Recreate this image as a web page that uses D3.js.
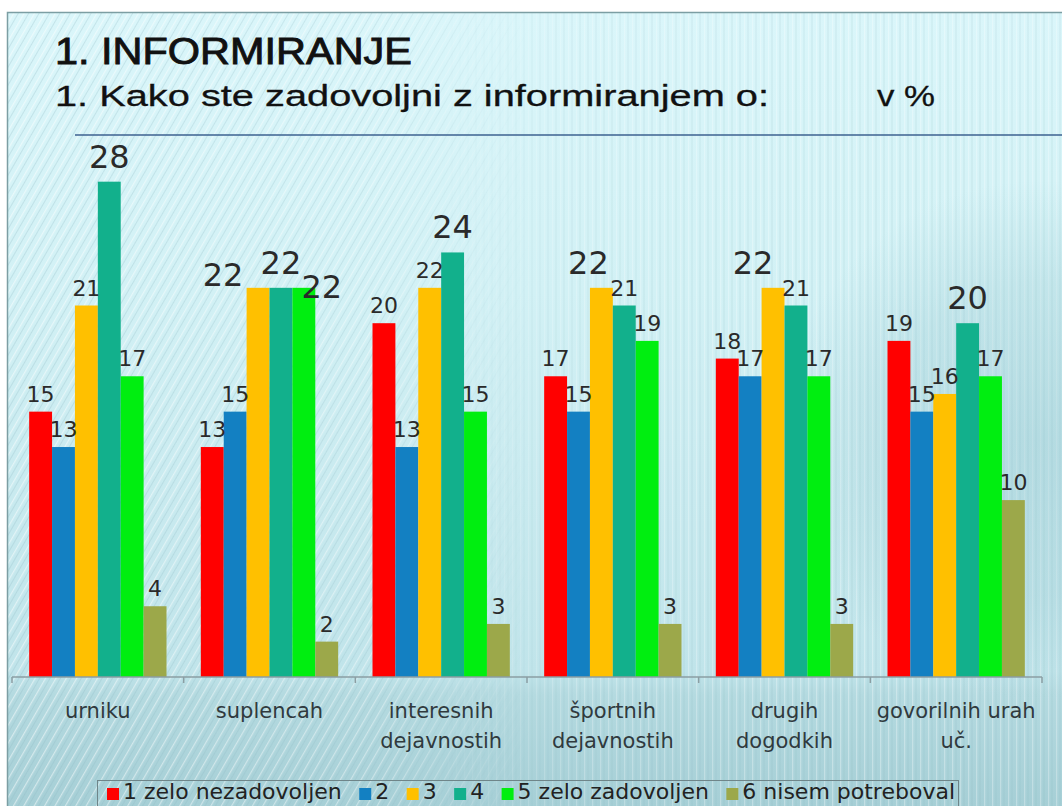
<!DOCTYPE html>
<html>
<head>
<meta charset="utf-8">
<script src="https://cdn.jsdelivr.net/npm/d3@7"></script>
<style>
  body { margin: 0; background: #fff; }
  svg { display: block; }
</style>
</head>
<body>
<svg width="1062" height="806"></svg>
<script>
const categories = ["urniku", "suplencah", "interesnih dejavnostih", "športnih dejavnostih", "drugih dogodkih", "govorilnih urah uč."];
const categoryLines = [["urniku"], ["suplencah"], ["interesnih", "dejavnostih"], ["športnih", "dejavnostih"], ["drugih", "dogodkih"], ["govorilnih urah", "uč."]];
const seriesNames = ["1 zelo nezadovoljen", "2", "3", "4", "5 zelo zadovoljen", "6 nisem potreboval"];
const s1 = [15, 13, 20, 17, 18, 19];
const s2 = [13, 15, 13, 15, 17, 15];
const s3 = [21, 22, 22, 22, 22, 16];
const s4 = [28, 22, 24, 21, 21, 20];
const s5 = [17, 22, 15, 19, 17, 17];
const s6 = [4, 2, 3, 3, 3, 10];
const seriesValues = [s1, s2, s3, s4, s5, s6];
const colors = ["#ff0000", "#1380c2", "#ffc000", "#12b08c", "#00ee10", "#9ca84a"];
const titleText = "1. INFORMIRANJE";
const subtitleText = "1. Kako ste zadovoljni z informiranjem o:";
const unitText = "v %";

// hand-moved labels in the original (category index, series index) -> [dx, dy]
const labelNudge = { "1-2": [-35, 12], "1-4": [18, 24], "3-2": [-13, 0], "4-2": [-20, 0] };

const svg = d3.select("svg");
const defs = svg.append("defs");

// background
const bg = defs.append("linearGradient").attr("id", "bg").attr("x1", 0).attr("y1", 0).attr("x2", 0).attr("y2", 1);
bg.append("stop").attr("offset", "0").attr("stop-color", "#daf6fa");
bg.append("stop").attr("offset", "0.35").attr("stop-color", "#d2f1f5");
bg.append("stop").attr("offset", "0.83").attr("stop-color", "#c0e4ea");
bg.append("stop").attr("offset", "0.86").attr("stop-color", "#b4dae0");
bg.append("stop").attr("offset", "1").attr("stop-color", "#a6cfd6");

const diag = defs.append("pattern").attr("id", "diag").attr("patternUnits", "userSpaceOnUse")
  .attr("width", 9).attr("height", 9).attr("patternTransform", "rotate(30)");
diag.append("line").attr("x1", 0).attr("y1", 0).attr("x2", 0).attr("y2", 9)
  .attr("stroke", "#ffffff").attr("stroke-width", 2.5).attr("stroke-opacity", 0.5);
diag.append("line").attr("x1", 4.5).attr("y1", 0).attr("x2", 4.5).attr("y2", 9)
  .attr("stroke", "#8fbcc4").attr("stroke-width", 1).attr("stroke-opacity", 0.3);

const vert = defs.append("pattern").attr("id", "vert").attr("patternUnits", "userSpaceOnUse")
  .attr("width", 8).attr("height", 8);
vert.append("line").attr("x1", 0).attr("y1", 0).attr("x2", 0).attr("y2", 8)
  .attr("stroke", "#ffffff").attr("stroke-width", 2.5).attr("stroke-opacity", 0.4);
vert.append("line").attr("x1", 4).attr("y1", 0).attr("x2", 4).attr("y2", 8)
  .attr("stroke", "#7fb0b9").attr("stroke-width", 1).attr("stroke-opacity", 0.25);

function hMask(id, stops) {
  const g = defs.append("linearGradient").attr("id", id + "G").attr("gradientUnits", "userSpaceOnUse")
    .attr("x1", 0).attr("x2", 1062).attr("y1", 0).attr("y2", 0);
  stops.forEach(s => g.append("stop").attr("offset", s[0]).attr("stop-color", "#fff").attr("stop-opacity", s[1]));
  defs.append("mask").attr("id", id).append("rect").attr("width", 1062).attr("height", 806).attr("fill", `url(#${id}G)`);
}
hMask("diagMask", [[0, 1], [0.35, 0.8], [0.5, 0]]);
hMask("vertMask", [[0.4, 0], [0.55, 0.6], [0.8, 0.8], [1, 0.7]]);

const shade = defs.append("radialGradient").attr("id", "shade").attr("gradientUnits", "userSpaceOnUse")
  .attr("cx", 1040).attr("cy", 440).attr("r", 260);
shade.append("stop").attr("offset", "0").attr("stop-color", "#82b7c1").attr("stop-opacity", 0.32);
shade.append("stop").attr("offset", "0.6").attr("stop-color", "#82b7c1").attr("stop-opacity", 0.2);
shade.append("stop").attr("offset", "1").attr("stop-color", "#82b7c1").attr("stop-opacity", 0);

svg.append("rect").attr("x", 7).attr("y", 12).attr("width", 1055).attr("height", 794).attr("fill", "url(#bg)");
svg.append("rect").attr("x", 7).attr("y", 12).attr("width", 1055).attr("height", 794).attr("fill", "url(#diag)").attr("mask", "url(#diagMask)");
svg.append("rect").attr("x", 7).attr("y", 12).attr("width", 1055).attr("height", 794).attr("fill", "url(#vert)").attr("mask", "url(#vertMask)");
svg.append("rect").attr("x", 7).attr("y", 12).attr("width", 1055).attr("height", 794).attr("fill", "url(#shade)");
svg.append("path").attr("d", "M7.5,806V12.5H1062").attr("fill", "none").attr("stroke", "#7c9ea3").attr("stroke-width", 1.5);

// titles
function titleLine(txt, x, base, size, len, sw) {
  svg.append("text").attr("x", x).attr("y", base).attr("font-family", "Liberation Sans, Arial, sans-serif")
    .attr("font-size", size).attr("fill", "#111").attr("stroke", "#111").attr("stroke-width", sw)
    .attr("textLength", len).attr("lengthAdjust", "spacingAndGlyphs").text(txt);
}
titleLine(titleText, 55, 64, 37, 357, 0.9);
titleLine(subtitleText, 55, 106, 29, 714, 0.3);
titleLine(unitText, 877, 106, 29, 58, 0.3);
svg.append("line").attr("x1", 75).attr("x2", 1062).attr("y1", 135).attr("y2", 135)
  .attr("stroke", "#3d6290").attr("stroke-width", 1.5);

// scales
const x0 = d3.scaleBand().domain(categories).range([12, 1042]).padding(0);
const x1 = d3.scaleBand().domain(seriesNames).range([0, x0.bandwidth()]).paddingInner(0).paddingOuter(0.75);
const y = d3.scaleLinear().domain([0, 30]).range([677, 146.3]);

const rows = categories.map((c, ci) => ({
  cat: c, ci,
  vals: seriesNames.map((s, si) => ({ s, si, v: seriesValues[si][ci] }))
}));

const groups = svg.append("g").selectAll("g").data(rows).join("g")
  .attr("transform", d => `translate(${x0(d.cat)},0)`);

groups.selectAll("rect").data(d => d.vals).join("rect")
  .attr("x", d => x1(d.s)).attr("width", x1.bandwidth())
  .attr("y", d => y(d.v)).attr("height", d => y(0) - y(d.v))
  .attr("fill", d => colors[d.si]);

// axis
const axis = svg.append("g").attr("transform", `translate(0,${y(0)})`);
axis.append("line").attr("x1", 12).attr("x2", 1042).attr("stroke", "#8b9ea3").attr("stroke-width", 1.5);
const ticks = categories.map(c => x0(c)).concat([x0.range()[1]]);
axis.selectAll(".tk").data(ticks).join("line").attr("class", "tk")
  .attr("x1", d => d).attr("x2", d => d).attr("y1", 0).attr("y2", 6)
  .attr("stroke", "#8b9ea3").attr("stroke-width", 1.5);

// category labels
const catLabels = svg.append("g").selectAll("text").data(rows).join("text")
  .attr("x", d => x0(d.cat) + x0.bandwidth() / 2).attr("y", 718)
  .attr("text-anchor", "middle").attr("font-family", "DejaVu Sans, Verdana, sans-serif")
  .attr("font-size", 21).attr("fill", "#303a3e");
catLabels.selectAll("tspan").data(d => categoryLines[d.ci]).join("tspan")
  .attr("x", function () { return d3.select(this.parentNode).attr("x"); })
  .attr("dy", (d, i) => i === 0 ? 0 : 30).text(d => d);

// value labels (the group maximum is drawn larger)
groups.each(function (row) {
  const mx = d3.max(row.vals, d => d.v);
  d3.select(this).selectAll(".lbl").data(row.vals).join("text").attr("class", "lbl")
    .attr("x", d => x1(d.s) + x1.bandwidth() / 2 + (labelNudge[row.ci + "-" + d.si] || [0, 0])[0])
    .attr("y", d => y(d.v) - (d.v === mx ? 14 : 10) + (labelNudge[row.ci + "-" + d.si] || [0, 0])[1])
    .attr("text-anchor", "middle").attr("font-family", "DejaVu Sans, Verdana, sans-serif")
    .attr("font-size", d => d.v === mx ? 32 : 22).attr("fill", "#2a2a2a")
    .text(d => d.v);
});

// legend
const legend = svg.append("g");
legend.append("rect").attr("x", 97.5).attr("y", 780.5).attr("width", 861).attr("height", 32)
  .attr("fill", "none").attr("stroke", "#6f8589").attr("stroke-width", 1);
const items = legend.selectAll("g").data(seriesNames).join("g");
items.append("rect").attr("width", 12).attr("height", 12).attr("y", 788).attr("fill", (d, i) => colors[i]);
items.append("text").attr("x", 16).attr("y", 799).attr("font-family", "DejaVu Sans, Verdana, sans-serif")
  .attr("font-size", 22).attr("fill", "#222").text(d => d);
const widths = [];
items.select("text").each(function () { widths.push(this.getComputedTextLength() + 16); });
const gap = (955 - 107 - d3.sum(widths)) / (seriesNames.length - 1);
let lx = 107;
items.each(function (d, i) {
  d3.select(this).select("rect").attr("x", lx);
  d3.select(this).select("text").attr("x", lx + 16);
  lx += widths[i] + gap;
});
</script>
</body>
</html>
